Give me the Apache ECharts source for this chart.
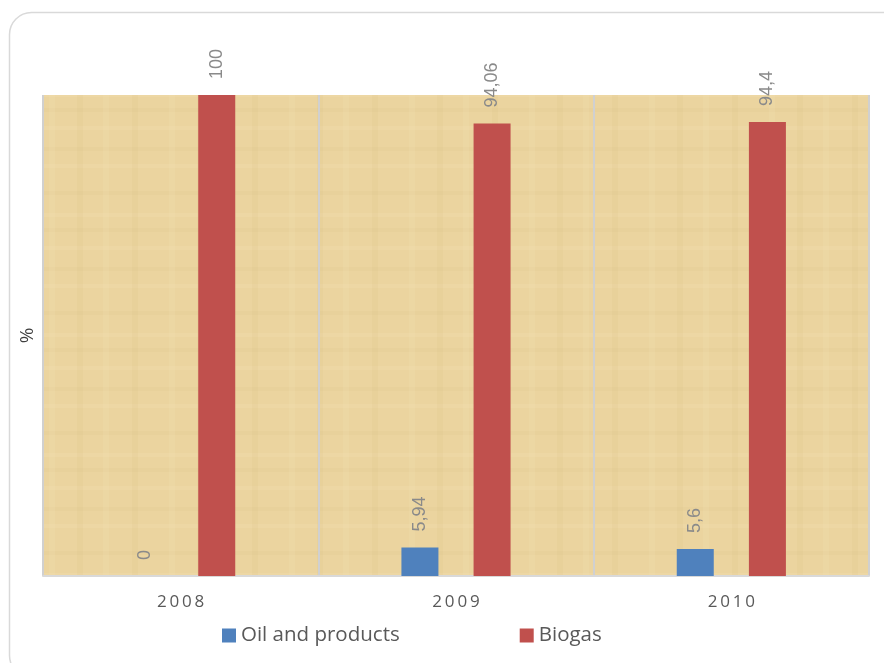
<!DOCTYPE html>
<html>
<head>
<meta charset="utf-8">
<script src="https://cdn.jsdelivr.net/npm/echarts@6/dist/echarts.min.js"></script>
<style>
  html, body { margin: 0; padding: 0; background: #fff; }
  #chart { width: 884px; height: 663px; }
</style>
</head>
<body>
<div id="chart"></div>
<script>
var years = ['2008', '2009', '2010'];
var oilValues = [0, 5.94, 5.6];
var biogasValues = [100, 94.06, 94.4];

// parchment-ish fill for the plot area, drawn once on a small canvas
function paperPattern() {
    var c = document.createElement('canvas');
    c.width = 120; c.height = 120;
    var ctx = c.getContext('2d');
    ctx.fillStyle = '#ebd49f';
    ctx.fillRect(0, 0, 120, 120);
    var rows = [6, 27, 44, 71, 93, 108];
    for (var i = 0; i < rows.length; i++) {
        ctx.fillStyle = i % 2 ? 'rgba(205,175,110,0.08)' : 'rgba(250,232,190,0.16)';
        ctx.fillRect(0, rows[i], 120, 4);
    }
    var cols = [12, 49, 77, 103];
    for (var j = 0; j < cols.length; j++) {
        ctx.fillStyle = j % 2 ? 'rgba(250,232,190,0.14)' : 'rgba(200,170,100,0.07)';
        ctx.fillRect(cols[j], 0, 6, 120);
    }
    return c;
}

var chart = echarts.init(document.getElementById('chart'));

var labelStyle = {
    show: true,
    position: 'top',
    rotate: 90,
    align: 'left',
    verticalAlign: 'middle',
    distance: 16,
    color: '#8a8a8a',
    fontSize: 18,
    fontFamily: 'Liberation Sans, Arial, sans-serif',
    formatter: function (p) { return String(p.value).replace('.', ','); }
};

var option = {
    backgroundColor: '#ffffff',
    animation: false,
    graphic: [{
        type: 'rect',
        shape: { x: 9.5, y: 12.5, width: 895, height: 665, r: 22 },
        style: { fill: 'none', stroke: '#d9d9d9', lineWidth: 1.5 },
        silent: true
    }],
    grid: {
        left: 43, right: 15, top: 95, bottom: 87,
        show: true,
        backgroundColor: { image: paperPattern(), repeat: 'repeat' },
        borderWidth: 0
    },
    legend: {
        bottom: 12,
        left: 217,
        itemWidth: 14,
        itemHeight: 14,
        itemGap: 120,
        icon: 'rect',
        textStyle: { color: '#595959', fontSize: 20.5, fontFamily: 'Open Sans, sans-serif' },
        data: ['Oil and products', 'Biogas']
    },
    xAxis: {
        type: 'category',
        data: years,
        axisLine: { show: true, lineStyle: { color: '#d9d9d9', width: 2 } },
        axisTick: { show: false },
        splitLine: { show: true, lineStyle: { color: '#d0d0d0', width: 2 } },
        axisLabel: { color: '#595959', fontSize: 17, margin: 18, fontFamily: 'Open Sans, sans-serif',
            formatter: function (v) { return v.split('').join('\u2009'); } }
    },
    yAxis: {
        type: 'value',
        min: 0, max: 100,
        name: '%',
        nameLocation: 'middle',
        nameGap: 6,
        nameRotate: 90,
        nameTextStyle: { color: '#404040', fontSize: 19, fontFamily: 'Open Sans, sans-serif' },
        axisLine: { show: false },
        axisTick: { show: false },
        axisLabel: { show: false },
        splitLine: { show: false }
    },
    series: [{
        name: 'Oil and products',
        type: 'bar',
        data: oilValues,
        barWidth: 37,
        barGap: '95%',
        itemStyle: { color: '#4f81bd' },
        label: labelStyle
    }, {
        name: 'Biogas',
        type: 'bar',
        data: biogasValues,
        barWidth: 37,
        barGap: '95%',
        itemStyle: { color: '#c0504d' },
        label: labelStyle
    }]
};

chart.setOption(option);
</script>
</body>
</html>
